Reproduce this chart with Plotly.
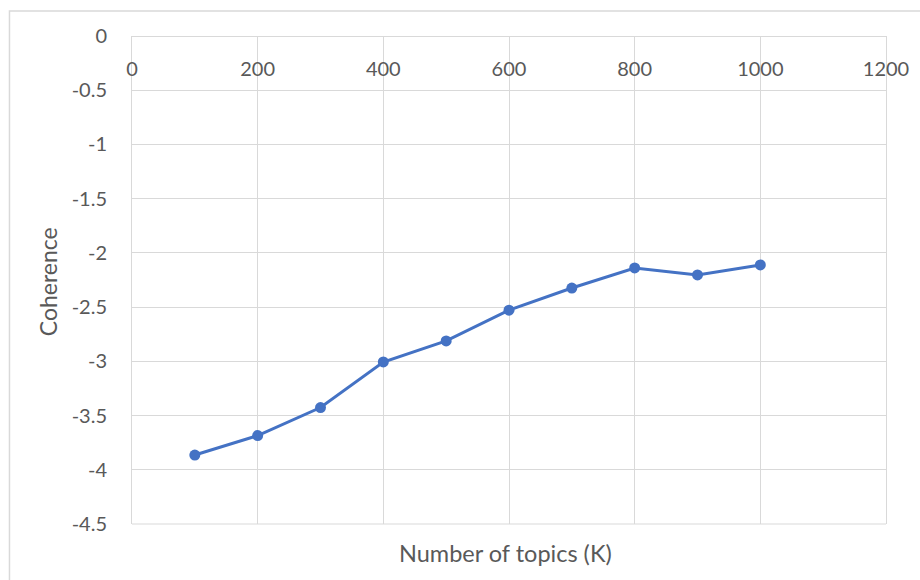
import plotly.graph_objects as go

# Topic-model coherence by number of topics
topics = [100, 200, 300, 400, 500, 600, 700, 800, 900, 1000]
coherence = [-3.864, -3.685, -3.426, -3.006, -2.812, -2.528, -2.324, -2.139, -2.203, -2.111]

x_ticks = [0, 200, 400, 600, 800, 1000, 1200]
y_ticks = [0, -0.5, -1, -1.5, -2, -2.5, -3, -3.5, -4, -4.5]
y_tick_labels = ["0", "-0.5", "-1", "-1.5", "-2", "-2.5", "-3", "-3.5", "-4", "-4.5"]

x_title = "Number of topics (K)"
y_title = "Coherence"

FONT = "Lato"
TEXT = "#595959"
GRID = "#d9d9d9"
LINE = "#4472C4"

fig = go.Figure(
    go.Scatter(
        x=topics,
        y=coherence,
        mode="lines+markers",
        line=dict(color=LINE, width=3),
        marker=dict(color=LINE, size=11),
        showlegend=False,
    )
)

fig.update_layout(
    width=920,
    height=580,
    margin=dict(l=131.5, r=34, t=36, b=56),
    paper_bgcolor="white",
    plot_bgcolor="white",
    font=dict(family=FONT, size=20, color=TEXT),
    # the x axis crosses at y = 0, so its labels hang just below the top edge
    xaxis=dict(
        range=[0, 1200],
        tickvals=x_ticks,
        ticktext=[str(v) for v in x_ticks],
        anchor="free",
        position=1,
        side="bottom",
        ticks="",
        ticklabelstandoff=15,
        showgrid=True,
        gridcolor=GRID,
        gridwidth=1,
        zeroline=False,
        showline=True,
        linecolor=GRID,
        linewidth=1,
    ),
    yaxis=dict(
        range=[-4.5, 0],
        tickvals=y_ticks,
        ticktext=y_tick_labels,
        ticks="",
        ticklabelstandoff=20,
        showgrid=True,
        gridcolor=GRID,
        gridwidth=1,
        zeroline=False,
        showline=True,
        mirror=True,
        linecolor=GRID,
        linewidth=1,
    ),
    annotations=[
        dict(
            text=x_title, xref="paper", yref="paper", x=0.496, y=-0.06,
            xanchor="center", yanchor="middle", showarrow=False,
            font=dict(family=FONT, size=23.5, color=TEXT),
        ),
        dict(
            text=y_title, xref="paper", yref="paper", x=-0.111, y=0.496,
            xanchor="center", yanchor="middle", showarrow=False, textangle=-90,
            font=dict(family=FONT, size=23, color=TEXT),
        ),
    ],
    shapes=[
        # plot-area bottom edge
        dict(type="line", xref="paper", yref="paper", x0=0, x1=1, y0=0, y1=0,
             line=dict(color=GRID, width=1)),
        # chart-area border
        dict(
            type="rect", xref="paper", yref="paper",
            x0=-0.1625, y0=-0.2, x1=1.1, y1=1.051,
            line=dict(color=GRID, width=1.5), fillcolor="rgba(0,0,0,0)",
            layer="below",
        ),
    ],
)

fig.write_html("out.html")
